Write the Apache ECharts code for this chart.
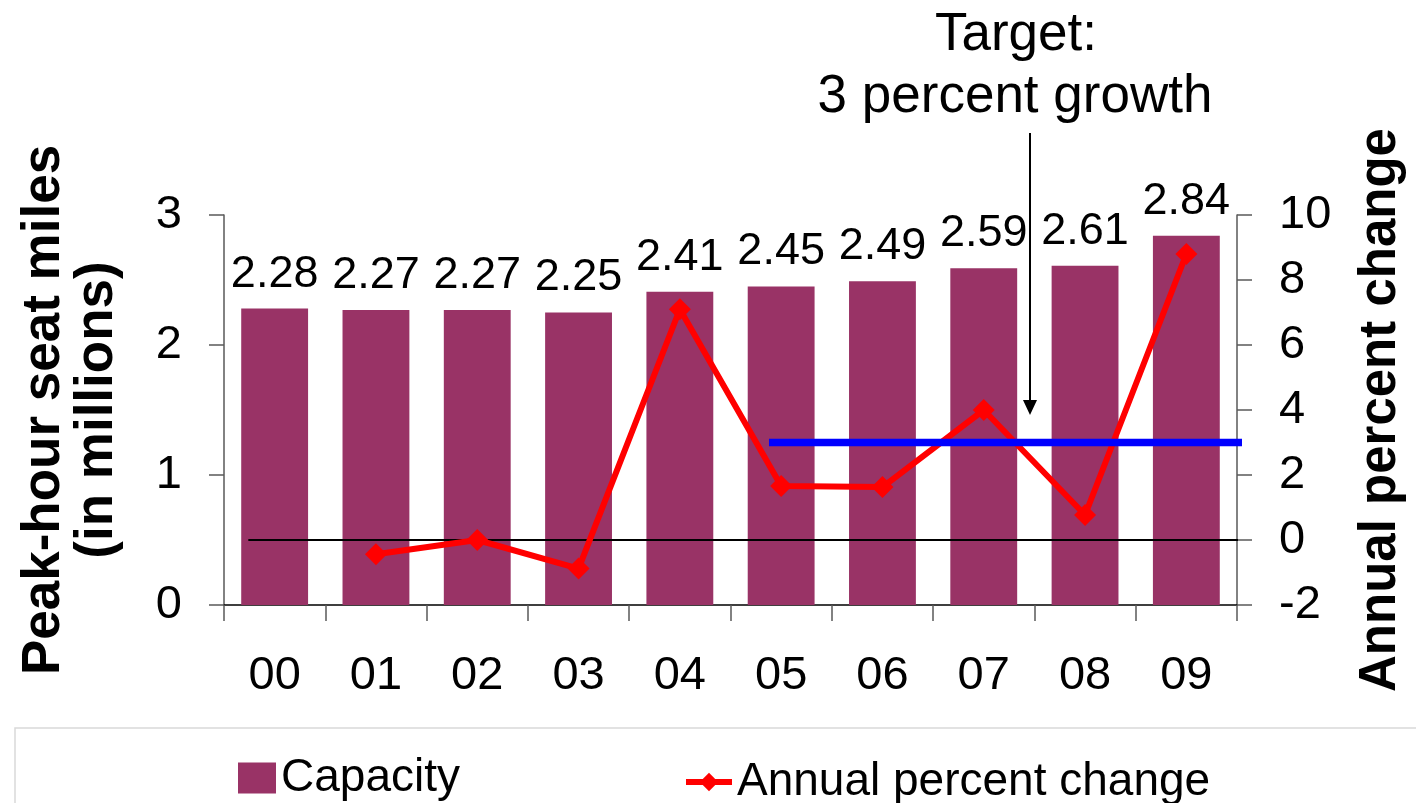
<!DOCTYPE html>
<html>
<head>
<meta charset="utf-8">
<script src="https://cdn.jsdelivr.net/npm/echarts@6/dist/echarts.min.js"></script>
<style>
html,body{margin:0;padding:0;background:#fff;}
#chart{width:1416px;height:803px;}
</style>
</head>
<body>
<div id="chart"></div>
<script>
// ---- data ----
var categories = ['00','01','02','03','04','05','06','07','08','09'];
var capacity = [2.28, 2.27, 2.27, 2.25, 2.41, 2.45, 2.49, 2.59, 2.61, 2.84];
var annualChange = [null, -0.44, 0, -0.88, 7.1, 1.66, 1.63, 4.0, 0.77, 8.8];
var targetGrowth = 3;
var targetSpan = [5.38, 10.12];   // in category-index units (0..10) on the hidden value axis
var zeroSpan = [0.24, 10.05];
var leftTicks = {min: 0, max: 3, interval: 1};
var rightTicks = {min: -2, max: 10, interval: 2};

var FONT = "'Liberation Sans', Arial, sans-serif";
var chart = echarts.init(document.getElementById('chart'));

var option = {
  backgroundColor: '#ffffff',
  animation: false,
  textStyle: {fontFamily: FONT, color: '#000'},
  grid: {left: 224, right: 179, top: 215, bottom: 198, containLabel: false},
  legend: [{
    data: [{name: 'Capacity', icon: 'rect'}],
    left: 238, top: 755, padding: 0,
    itemWidth: 38, itemHeight: 31,
    selectedMode: false,
    textStyle: {fontFamily: FONT, fontSize: 46, color: '#000'}
  }, {
    data: ['Annual percent change'],
    left: 683, top: 759, padding: 0,
    itemWidth: 46, itemHeight: 23,
    selectedMode: false,
    lineStyle: {width: 6},
    textStyle: {fontFamily: FONT, fontSize: 46, color: '#000'}
  }],
  xAxis: [{
    type: 'category',
    data: categories,
    boundaryGap: true,
    axisLine: {lineStyle: {color: '#000', width: 1.5}},
    axisTick: {show: true, length: 16, alignWithLabel: false, lineStyle: {color: '#595959', width: 1.5}},
    axisLabel: {fontSize: 47, color: '#000', margin: 48, fontFamily: FONT},
    splitLine: {show: false}
  }, {
    type: 'value', min: 0, max: 10, show: false
  }],
  yAxis: [{
    type: 'value',
    min: leftTicks.min, max: leftTicks.max, interval: leftTicks.interval,
    position: 'left',
    name: 'Peak-hour seat miles\n(in millions)',
    nameLocation: 'middle',
    nameRotate: 90,
    nameGap: 100,
    nameTextStyle: {fontSize: 53, fontWeight: 'bold', color: '#000', fontFamily: FONT, lineHeight: 53},
    axisLine: {show: true, lineStyle: {color: '#595959', width: 1.5}},
    axisTick: {show: true, length: 15, lineStyle: {color: '#595959', width: 1.5}},
    axisLabel: {fontSize: 47, color: '#000', margin: 42, fontFamily: FONT},
    splitLine: {show: false}
  }, {
    type: 'value',
    min: rightTicks.min, max: rightTicks.max, interval: rightTicks.interval,
    position: 'right',
    name: 'Annual percent change',
    nameLocation: 'middle',
    nameRotate: 90,
    nameGap: 118,
    nameTextStyle: {fontSize: 51, fontWeight: 'bold', color: '#000', fontFamily: FONT},
    axisLine: {show: true, lineStyle: {color: '#595959', width: 1.5}},
    axisTick: {show: true, length: 15, lineStyle: {color: '#595959', width: 1.5}},
    axisLabel: {fontSize: 47, color: '#000', margin: 42, fontFamily: FONT},
    splitLine: {show: false}
  }],
  series: [{
    name: 'Capacity',
    type: 'bar',
    xAxisIndex: 0, yAxisIndex: 0,
    data: capacity,
    barCategoryGap: '34%',
    itemStyle: {color: '#993366'},
    z: 1,
    label: {
      show: true, position: 'top', distance: 12,
      fontSize: 45, color: '#000', fontFamily: FONT,
      formatter: function (p) { return p.value.toFixed(2); }
    }
  }, {
    name: 'zero',
    type: 'line',
    xAxisIndex: 1, yAxisIndex: 1,
    data: [[zeroSpan[0], 0], [zeroSpan[1], 0]],
    symbol: 'none',
    lineStyle: {color: '#000', width: 2},
    clip: false,
    z: 2,
    silent: true
  }, {
    name: 'Annual percent change',
    type: 'line',
    xAxisIndex: 0, yAxisIndex: 1,
    data: annualChange,
    symbol: 'diamond',
    symbolSize: 22,
    lineStyle: {color: '#ff0000', width: 6},
    itemStyle: {color: '#ff0000'},
    z: 3
  }, {
    name: 'target',
    type: 'line',
    xAxisIndex: 1, yAxisIndex: 1,
    data: [[targetSpan[0], targetGrowth], [targetSpan[1], targetGrowth]],
    symbol: 'none',
    lineStyle: {color: '#0000ff', width: 7.5},
    clip: false,
    z: 4,
    silent: true
  }],
  graphic: [{
    type: 'rect',
    shape: {x: 15, y: 728, width: 1420, height: 100},
    style: {fill: 'none', stroke: '#d9d9d9', lineWidth: 1.5},
    z: -1
  }, {
    type: 'text',
    x: 1016, y: 35,
    style: {text: 'Target:', fontSize: 53, fontFamily: FONT, fill: '#000', align: 'center', verticalAlign: 'middle'}
  }, {
    type: 'text',
    x: 1015, y: 97,
    style: {text: '3 percent growth', fontSize: 53, fontFamily: FONT, fill: '#000', align: 'center', verticalAlign: 'middle'}
  }, {
    type: 'line',
    shape: {x1: 1030, y1: 133, x2: 1030, y2: 402},
    style: {stroke: '#000', lineWidth: 2}
  }, {
    type: 'polygon',
    shape: {points: [[1023, 400], [1037, 400], [1030, 415]]},
    style: {fill: '#000'}
  }]
};
chart.setOption(option);
</script>
</body>
</html>
